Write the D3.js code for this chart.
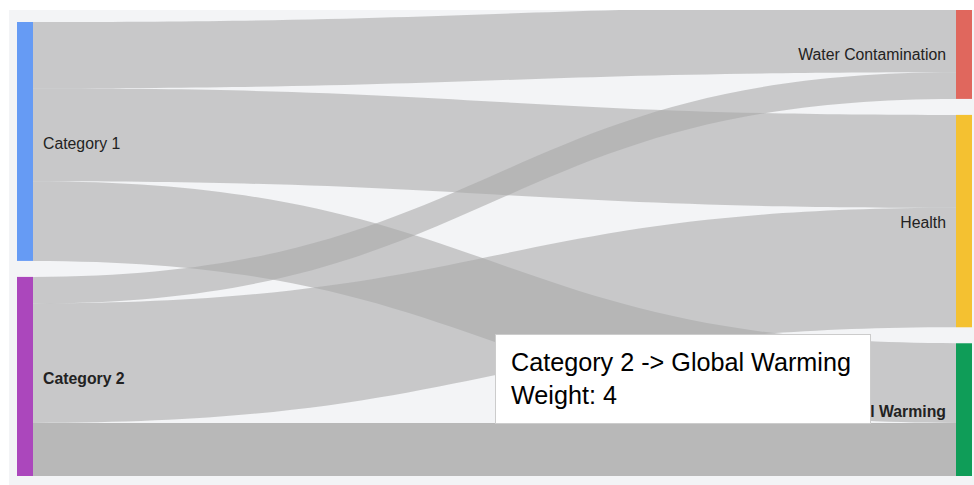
<!DOCTYPE html>
<html>
<head>
<meta charset="utf-8">
<script src="https://cdn.jsdelivr.net/npm/d3@7"></script>
<style>
  html, body { margin: 0; padding: 0; background: #ffffff; }
  svg { display: block; }
  text { font-family: Arial, "Liberation Sans", sans-serif; }
</style>
</head>
<body>
<svg id="chart" width="974" height="485"></svg>
<script>
// Flow data: sources on the left, targets on the right
const sources = ["Category 1", "Category 2"];
const targets = ["Water Contamination", "Health", "Global Warming"];
// weights[sourceIndex][targetIndex]
const weights = [
  [5, 7, 6],
  [2, 9, 4]
];
const sourceColors = ["#4285f4", "#ab47bc"];
const targetColors = ["#db4437", "#f4b400", "#0f9d58"];

// Link currently under the pointer (source index, target index)
const hovered = { s: 1, t: 2 };

const W = 974, H = 485;
const area = { x: 9, y: 10, w: W - 9, h: H - 10 };
const nodeW = 16, nodePad = 16;
const leftX = 17, rightX = 956;
const plotTop = 6, plotBottom = 476;

const svg = d3.select("#chart");
svg.append("rect").attr("x", area.x).attr("y", area.y)
  .attr("width", area.w).attr("height", area.h).attr("fill", "#f3f4f6");

svg.append("defs").append("clipPath").attr("id", "plotClip")
  .append("rect").attr("x", area.x).attr("y", area.y)
  .attr("width", area.w).attr("height", area.h);

const plot = svg.append("g").attr("clip-path", "url(#plotClip)");

const srcTotals = weights.map(r => d3.sum(r));
const tgtTotals = targets.map((_, j) => d3.sum(weights, r => r[j]));
const total = d3.sum(srcTotals);

// Value -> pixel height, sized so the busiest column fills the plot
const maxNodes = Math.max(sources.length, targets.length);
const ky = d3.scaleLinear().domain([0, total])
  .range([0, (plotBottom - plotTop) - (maxNodes - 1) * nodePad]);

// Stack a column of nodes, aligned to the bottom of the plot
function stackColumn(totals) {
  const span = ky(d3.sum(totals)) + (totals.length - 1) * nodePad;
  let y = plotBottom - span;
  return totals.map(v => {
    const n = { y0: y, y1: y + ky(v), value: v };
    y = n.y1 + nodePad;
    return n;
  });
}
const srcNodes = stackColumn(srcTotals);
const tgtNodes = stackColumn(tgtTotals);

// Link slots on each side
const links = [];
const tgtOffset = tgtNodes.map(n => n.y0);
sources.forEach((s, i) => {
  let sy = srcNodes[i].y0;
  targets.forEach((t, j) => {
    const v = weights[i][j];
    const h = ky(v);
    links.push({ s: i, t: j, value: v,
      sy0: sy, sy1: sy + h, ty0: tgtOffset[j], ty1: tgtOffset[j] + h });
    sy += h;
    tgtOffset[j] += h;
  });
});

const x0 = leftX + nodeW, x1 = rightX, xm = (x0 + x1) / 2;
function linkPath(d) {
  const p = d3.path();
  p.moveTo(x0, d.sy0);
  p.bezierCurveTo(xm, d.sy0, xm, d.ty0, x1, d.ty0);
  p.lineTo(x1, d.ty1);
  p.bezierCurveTo(xm, d.ty1, xm, d.sy1, x0, d.sy1);
  p.closePath();
  return p.toString();
}

const isHover = d => d.s === hovered.s && d.t === hovered.t;

plot.append("g").selectAll("path").data(links).join("path")
  .attr("d", linkPath)
  .attr("fill", "#a9a9a9")
  .attr("fill-opacity", d => isHover(d) ? 0.8 : 0.58);

// Nodes
plot.append("g").selectAll("rect").data(srcNodes).join("rect")
  .attr("x", leftX).attr("width", nodeW)
  .attr("y", d => d.y0).attr("height", d => d.y1 - d.y0)
  .attr("fill", (d, i) => sourceColors[i])
  .attr("fill-opacity", (d, i) => i === hovered.s ? 1 : 0.8);

plot.append("g").selectAll("rect").data(tgtNodes).join("rect")
  .attr("x", rightX).attr("width", nodeW)
  .attr("y", d => d.y0).attr("height", d => d.y1 - d.y0)
  .attr("fill", (d, j) => targetColors[j])
  .attr("fill-opacity", (d, j) => j === hovered.t ? 1 : 0.8);

// Labels
const labelSize = 15.8;
plot.append("g").selectAll("text").data(srcNodes).join("text")
  .attr("x", leftX + nodeW + 10)
  .attr("y", d => (d.y0 + d.y1) / 2)
  .attr("dy", "0.45em")
  .attr("font-size", labelSize)
  .attr("font-weight", (d, i) => i === hovered.s ? "bold" : "normal")
  .attr("fill", "#222")
  .text((d, i) => sources[i]);

plot.append("g").selectAll("text").data(tgtNodes).join("text")
  .attr("x", rightX - 10)
  .attr("y", d => (d.y0 + d.y1) / 2)
  .attr("dy", "0.45em")
  .attr("text-anchor", "end")
  .attr("font-size", labelSize)
  .attr("font-weight", (d, j) => j === hovered.t ? "bold" : "normal")
  .attr("fill", "#222")
  .text((d, j) => targets[j]);

// Tooltip for the hovered link
const tip = svg.append("g").attr("transform", "translate(495,334)");
tip.append("rect").attr("x", 0.5).attr("y", 0.5)
  .attr("width", 375).attr("height", 89)
  .attr("fill", "#ffffff").attr("stroke", "#cccccc");
tip.append("text").attr("x", 16).attr("y", 37)
  .attr("font-size", 25.2).attr("fill", "#000")
  .text(`${sources[hovered.s]} -> ${targets[hovered.t]}`);
tip.append("text").attr("x", 16).attr("y", 70)
  .attr("font-size", 25.2).attr("fill", "#000")
  .text(`Weight: ${weights[hovered.s][hovered.t]}`);
</script>
</body>
</html>
